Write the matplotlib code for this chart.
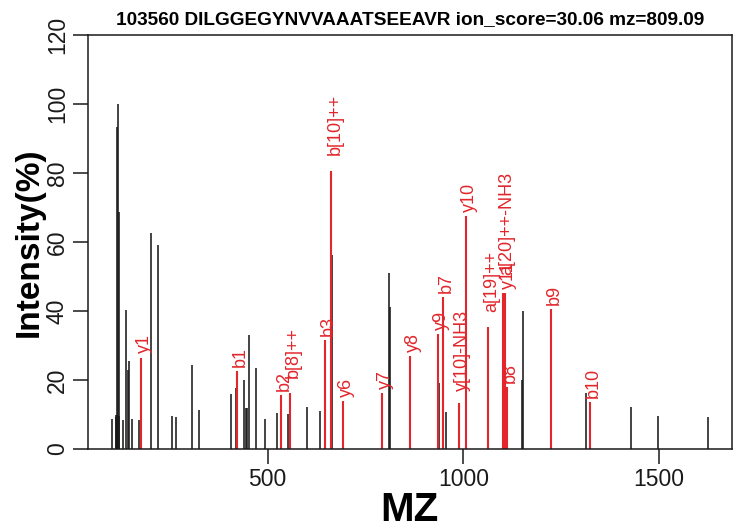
import matplotlib
matplotlib.use("Agg")
import matplotlib.pyplot as plt

SANS = "Liberation Sans"
plt.rcParams["font.family"] = [SANS, "DejaVu Sans"]

TITLE = "103560 DILGGEGYNVVAAATSEEAVR ion_score=30.06 mz=809.09"

# unmatched peaks (m/z, relative intensity %)
other_mz = [103, 111.5, 113, 114, 116, 117.6, 119, 121, 129.5, 137, 144, 146.5,
            154, 171, 202, 220.6, 254.7, 265.8, 306, 324.6, 405.5, 418, 440.4,
            444, 447, 451.5, 469.4, 494, 523, 553, 600, 633, 664, 810, 812, 938,
            955, 1007, 1150, 1151.7, 1225, 1314.5, 1428, 1497.6, 1625]
other_int = [8.6, 9.4, 9.8, 93.4, 10, 100, 68.8, 9.5, 8.5, 40.3, 22.9, 25.6,
             8.6, 8.5, 62.7, 59.1, 9.7, 9.2, 24.3, 11.3, 15.9, 17.6, 20,
             11.8, 11.8, 33, 23.4, 8.7, 10.5, 10.1, 12.3, 11.1, 56.2, 50.9, 41.2, 19,
             10.6, 16, 20, 39.9, 20, 16.1, 12.1, 9.7, 9.2]

# annotated fragment ions
ion_mz = [175.5, 420.8, 534, 557, 647, 662.8, 691.7, 792, 863.8, 935.3, 948,
          989, 1006, 1063, 1102.5, 1106.5, 1111, 1224, 1324]
ion_int = [26.5, 22.6, 15.7, 16.1, 31.5, 80.7, 13.9, 16.1, 27, 33.2, 44.1,
           13.2, 67.5, 35.3, 45.1, 45.1, 18, 40.5, 13.7]
ion_lab = ["y1", "b1", "b2", "b[8]++", "b3", "b[10]++", "y6", "y7", "y8", "y9", "b7",
           "y[10]-NH3", "y10", "a[19]++", "a[20]++-NH3", "y11", "b8", "b9", "b10"]

RED = "#e2262b"
INK = "#1a1a1a"

fig = plt.figure(figsize=(7.33, 5.27), dpi=100)
ax = fig.add_axes([88 / 733, 78 / 527, 643.5 / 733, 414 / 527])

ax.vlines(other_mz, 0, other_int, color=INK, linewidth=1.15)
ax.vlines(ion_mz, 0, ion_int, color=RED, linewidth=1.5)

for x, y, lab in zip(ion_mz, ion_int, ion_lab):
    extra = 2.0 * sum(not c.isalnum() for c in lab)
    ax.annotate(lab, (x, y), xytext=(2.5, 3 + extra), textcoords="offset points",
                rotation=90, ha="center", va="bottom", color=RED, fontsize=13)

ax.set_xlim(41, 1685)
ax.set_ylim(0, 120)
ax.set_xticks([500, 1000, 1500])
ax.set_yticks(range(0, 121, 20))
ax.tick_params(direction="out", length=10.8, width=1.1, colors=INK,
               labelsize=16.5, pad=3)
for lbl in ax.get_yticklabels():
    lbl.set_rotation(90)
    lbl.set_va("center")
for s in ax.spines.values():
    s.set_linewidth(1.1)
    s.set_color(INK)

ax.set_xlabel("MZ", fontsize=29, fontweight="bold", labelpad=0)
ax.set_ylabel("Intensity(%)", fontsize=24, fontweight="bold", labelpad=1)
ax.set_title(TITLE, fontsize=13.7, fontweight="bold", pad=8)

fig.savefig("out.png", dpi=100)
